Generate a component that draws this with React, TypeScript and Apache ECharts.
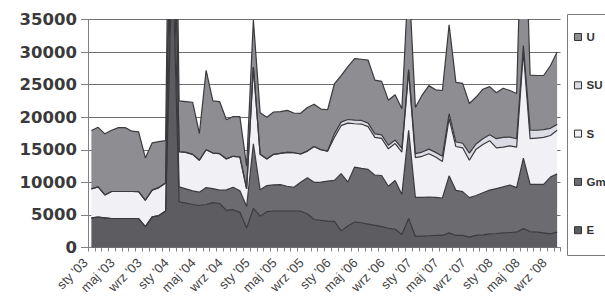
import React, { useEffect, useRef } from "react";
import * as echarts from "echarts";

const monthNames = ["sty", "lut", "mar", "kwi", "maj", "cze", "lip", "sie", "wrz", "paź", "lis", "gru"];
const yearNames = ["'03", "'04", "'05", "'06", "'07", "'08"];
const MONTH_COUNT = 70;
const categories: string[] = yearNames
  .flatMap((y) => monthNames.map((m) => `${m} ${y}`))
  .slice(0, MONTH_COUNT);

const legendOrder = ["U", "SU", "S", "Gm", "E"];

const E = [
  4550, 4650, 4550, 4450, 4450, 4450, 4450, 4450, 3200, 4700, 4900, 5600,
  45000,
  7000, 6800, 6600, 6450, 6600, 6900, 6750, 5700, 5800, 5400, 3000, 6000,
  4800, 5500, 5600, 5600, 5600, 5600, 5600, 5150, 4300, 4150, 4050,
  4000, 2550, 3300, 3900, 3800, 3600, 3400, 3200, 2950, 2800, 2000, 4450,
  1700, 1750, 1800, 1850, 1850, 2250, 1850, 1850, 1600, 1850, 1950, 2100,
  2150, 2250, 2300, 2350, 2900, 2450, 2350, 2250, 2100, 2350,
];

const Gm = [
  0, 0, 0, 0, 0, 0, 0, 0, 0, 0, 0, 0,
  10000,
  2300, 2200, 2100, 2050, 2600, 2150, 2050, 3150, 3450, 3300, 3300, 9900,
  4050, 4000, 4000, 4050, 3800, 3650, 4400, 5550, 5700, 5900, 6150,
  6300, 8800, 6750, 8450, 8350, 8400, 7700, 7850, 6450, 7500, 6150, 13550,
  6000, 5950, 5950, 5850, 5750, 8750, 6920, 6720, 6050, 6140, 6450, 6700,
  6900, 7050, 7300, 6850, 10800, 7250, 7350, 7450, 8700, 8950,
];

const S = [
  4450, 4650, 3520, 4150, 4150, 4150, 4150, 4130, 4050, 4100, 4300, 4300,
  15000,
  5400, 5600, 5600, 4900, 5800, 5450, 5600, 4750, 4750, 5200, 2700, 11800,
  5450, 4100, 4700, 4800, 5200, 5300, 4350, 4100, 5500, 4950, 4600,
  6600, 7350, 9050, 6650, 6800, 6550, 5800, 5700, 5750, 5650, 6500, 9000,
  6100, 6300, 6650, 6200, 5600, 8800, 6730, 6730, 5750, 7110, 7400, 7600,
  6250, 6100, 6000, 6200, 16300, 7000, 7100, 7200, 6400, 6700,
];

const SU = [
  0, 0, 0, 0, 0, 0, 0, 0, 0, 0, 0, 0,
  0,
  0, 0, 0, 0, 0, 0, 0, 0, 0, 0, 0, 0,
  0, 0, 0, 0, 0, 0, 0, 0, 0, 0, 0,
  550, 550, 550, 550, 550, 550, 550, 550, 550, 550, 550, 300,
  600, 650, 700, 700, 800, 700, 700, 700, 1100, 800, 900, 900,
  1400, 1500, 1350, 1300, 1000, 1300, 1200, 1200, 1100, 900,
];

const U = [
  8950, 9150, 9380, 9400, 9800, 9800, 9250, 9170, 6500, 7250, 7050, 6500,
  30000,
  7800, 7800, 8000, 4100, 12200, 8000, 8000, 6000, 6100, 6200, 3500, 7200,
  6400, 6400, 6500, 6400, 6450, 6100, 6250, 6700, 6500, 6250, 6350,
  7650, 7150, 8100, 9450, 9400, 9650, 8250, 8200, 6900, 6950, 6100, 14700,
  7100, 8750, 9750, 9600, 10100, 13700, 9150, 9200, 7600, 7200, 7600, 7400,
  7050, 7550, 7150, 6950, 29000, 8450, 8400, 8300, 9600, 11100,
];

const yTicks = { min: 0, max: 35000, step: 5000 };

const seriesDefs = [
  { name: "E", data: E, fill: "#5d5d61" },
  { name: "Gm", data: Gm, fill: "#6c6c70" },
  { name: "S", data: S, fill: "#f1f1f5" },
  { name: "SU", data: SU, fill: "#dcdce6" },
  { name: "U", data: U, fill: "#8e8e92" },
];

export default function App() {
  const ref = useRef<HTMLDivElement>(null);

  useEffect(() => {
    if (!ref.current) return;
    const chart = echarts.init(ref.current, null, { renderer: "svg" });
    chart.setOption({
      animation: false,
      backgroundColor: "#ffffff",
      grid: [
        { left: 88, top: 19.5, width: 472.5, height: 228, containLabel: false },
        // label-only grid, shifted left to mimic the original's rotated label placement
        { left: 82, top: 19.5, width: 472.5, height: 228, containLabel: false, show: false },
      ],
      xAxis: [
        {
          type: "category",
          gridIndex: 0,
          data: categories,
          boundaryGap: true,
          axisLine: { show: true, lineStyle: { color: "#808080", width: 1 } },
          axisTick: { show: true, interval: 0, length: 4, lineStyle: { color: "#808080" } },
          axisLabel: { show: false },
          splitLine: { show: false },
        },
        {
          type: "category",
          gridIndex: 1,
          data: categories,
          boundaryGap: true,
          axisLine: { show: false },
          axisTick: { show: false },
          axisLabel: {
            interval: 3,
            rotate: 45,
            fontSize: 13,
            fontFamily: "Liberation Sans",
            color: "#444444",
            margin: 13,
          },
          splitLine: { show: false },
        },
      ],
      yAxis: [
        {
          type: "value",
          gridIndex: 0,
          min: yTicks.min,
          max: yTicks.max,
          interval: yTicks.step,
          axisLine: { show: true, lineStyle: { color: "#808080", width: 1 } },
          axisTick: { show: true, length: 7, lineStyle: { color: "#808080" } },
          axisLabel: {
            fontFamily: "DejaVu Sans",
            fontWeight: "bold",
            fontSize: 16.5,
            color: "#3a3a3a",
            margin: 11,
            formatter: (v: number) => String(v),
          },
          splitLine: { show: true, lineStyle: { color: "#6e6e6e", width: 1 } },
        },
        {
          type: "value",
          gridIndex: 1,
          min: yTicks.min,
          max: yTicks.max,
          show: false,
        },
      ],
      legend: {
        orient: "vertical",
        left: 569,
        top: 25,
        itemWidth: 7,
        itemHeight: 7,
        itemGap: 34.3,
        icon: "rect",
        data: legendOrder,
        textStyle: {
          fontFamily: "Liberation Sans",
          fontWeight: "bold",
          fontSize: 11.5,
          color: "#333333",
          lineHeight: 14,
        },
        itemStyle: { borderColor: "#333333", borderWidth: 1 },
      },
      graphic: [
        {
          type: "rect",
          left: 565,
          top: 12,
          shape: { width: 60, height: 241 },
          style: { fill: "none", stroke: "#7a7a7a", lineWidth: 1 },
          silent: true,
        },
      ],
      series: seriesDefs.map((d) => ({
        name: d.name,
        type: "line",
        stack: "total",
        xAxisIndex: 0,
        yAxisIndex: 0,
        data: d.data,
        symbol: "none",
        showSymbol: false,
        clip: true,
        lineStyle: { color: "#3a3a3e", width: 1.2 },
        itemStyle: { color: d.fill },
        areaStyle: { color: d.fill, opacity: 1 },
        emphasis: { disabled: true },
      })),
    });
    return () => chart.dispose();
  }, []);

  return (
    <div
      ref={ref}
      style={{ position: "fixed", left: 0, top: 0, width: 605, height: 301 }}
    />
  );
}
